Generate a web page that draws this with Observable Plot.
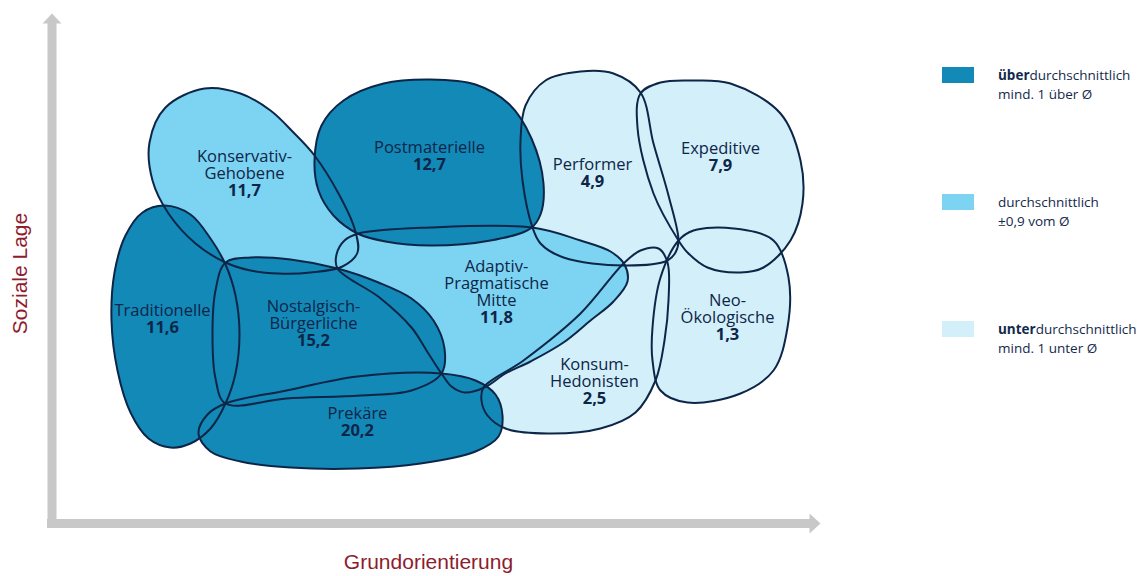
<!DOCTYPE html>
<html><head><meta charset="utf-8">
<script src="https://cdn.jsdelivr.net/npm/d3@7"></script>
<script src="https://cdn.jsdelivr.net/npm/@observablehq/plot@0.6"></script>
<style>
body{margin:0;background:#fff;}
#wrap{position:relative;width:1142px;height:576px;display:flex;}
#legend{position:relative;width:212px;height:576px;font-family:"Open Sans",sans-serif;font-size:13.5px;color:#13294b;}
.item{position:absolute;left:12px;display:flex;align-items:flex-start;}
.sw{width:32px;height:16px;margin-top:1px;margin-right:24px;flex:none;}
.txt{line-height:19px;white-space:nowrap;}
</style></head>
<body><div id="wrap"><div id="chart"></div><div id="legend"></div></div>
<script>
// ---- data ----
const milieuNames = ["Konservativ-Gehobene","Postmaterielle","Performer","Expeditive","Traditionelle","Nostalgisch-Bürgerliche","Adaptiv-Pragmatische Mitte","Neo-Ökologische","Konsum-Hedonisten","Prekäre"];
const milieuLabels = ["Konservativ-\nGehobene","Postmaterielle","Performer","Expeditive","Traditionelle","Nostalgisch-\nBürgerliche","Adaptiv-\nPragmatische\nMitte","Neo-\nÖkologische","Konsum-\nHedonisten","Prekäre"];
const milieuShares = [11.7, 12.7, 4.9, 7.9, 11.6, 15.2, 11.8, 1.3, 2.5, 20.2];
const milieuLevels = ["durchschnittlich","über","unter","unter","über","über","durchschnittlich","unter","unter","über"];
const labelX = [244, 429, 592, 720, 162, 313, 496, 727, 594, 357];
const labelY = [178, 152, 169, 153, 315, 328, 305, 322, 386, 418];

const outlineKonservativ = [[204,88],[240,93],[270,110],[293,132],[314,155],[338,193],[354,228],[357,252],[342,266],[310,272],[278,273],[250,270],[225,262],[195,243],[168,213],[152,180],[149,142],[165,107]];
const outlinePostmateriell = [[357,233],[333,215],[318,190],[314,160],[321,125],[343,100],[383,83],[430,79],[475,84],[509,104],[531,138],[543,183],[540,214],[530,228],[490,240],[430,245],[385,241]];
const outlinePerformer = [[532,227],[522,180],[520,140],[525,105],[545,80],[580,71],[613,73],[640,92],[653,143],[668,195],[678,240],[675,252],[667,260],[623,265],[563,257],[540,243]];
const outlineExpeditive = [[640,93],[660,82],[690,80],[730,83],[780,113],[800,160],[802,203],[790,240],[763,267],[740,272],[707,267],[687,252],[678,240],[653,193],[637,127]];
const outlineTraditionell = [[164,205],[190,214],[210,238],[225,264],[235,295],[239,333],[235,373],[225,403],[210,428],[190,443],[170,447],[148,438],[130,412],[117,370],[111,320],[114,272],[125,235],[142,212]];
const outlineNostalgisch = [[225,262],[250,257],[290,259],[337,268],[378,282],[411,298],[433,320],[444,348],[441,373],[411,390],[360,395],[286,398],[225,403],[215,378],[212,333],[215,290]];
const outlineAdaptiv = [[337,268],[336,254],[344,240],[358,233],[429,227],[532,227],[580,240],[610,251],[624,264],[627,281],[613,301],[590,320],[563,342],[530,361],[505,373],[484,387],[464,392],[451,386],[441,373],[426,350],[411,327],[379,297]];
const outlineNeoOeko = [[678,240],[693,230],[733,228],[773,240],[788,277],[787,327],[773,370],[740,393],[687,402],[660,390],[652,360],[652,327],[660,277]];
const outlineKonsum = [[483,387],[523,360],[580,313],[623,263],[640,250],[658,248],[667,262],[668,300],[664,340],[655,380],[635,412],[600,428],[547,433],[505,428],[487,415],[481,400]];
const outlinePrekaer = [[225,403],[286,390],[357,376],[441,373],[475,380],[495,394],[502,415],[498,436],[475,451],[420,463],[357,468],[290,467],[240,461],[210,451],[198,433],[207,414]];
const outlines = [outlineKonservativ, outlinePostmateriell, outlinePerformer, outlineExpeditive, outlineTraditionell, outlineNostalgisch, outlineAdaptiv, outlineNeoOeko, outlineKonsum, outlinePrekaer];

const levelOrder = ["unter","durchschnittlich","über"];
const levelColors = {"über":"#1389b8","durchschnittlich":"#7dd3f2","unter":"#d3eff9"};
const legendLines = [["<b>über</b>durchschnittlich","mind. 1 über Ø"],["durchschnittlich","±0,9 vom Ø"],["<b>unter</b>durchschnittlich","mind. 1 unter Ø"]];
const legendLevels = ["über","durchschnittlich","unter"];

const axisTitles = ["Soziale Lage","Grundorientierung"];
// axis geometry (origin and arrow tips, in chart units)
const axisOrigin = [51.5, 523];
const axisTipY = 13, axisTipX = 820;

// ---- build tables ----
const shapes = outlines.flatMap((pts, i) => pts.map(([x, y]) => ({milieu: milieuNames[i], level: milieuLevels[i], x, y})));
const labels = milieuNames.map((m, i) => ({milieu: m, text: milieuLabels[i], value: milieuShares[i].toLocaleString("de-DE",{minimumFractionDigits:1}), x: labelX[i], y: labelY[i]}));
const [ox, oy] = axisOrigin;
const heads = [
  {axis:"y", x: ox - 9.5, y: axisTipY + 10}, {axis:"y", x: ox, y: axisTipY}, {axis:"y", x: ox + 9.5, y: axisTipY + 10},
  {axis:"x", x: axisTipX - 11, y: oy - 10}, {axis:"x", x: axisTipX, y: oy}, {axis:"x", x: axisTipX - 11, y: oy + 10}
];
const navy = "#0d2648";
const grey = "#c8c8c8";

const plot = Plot.plot({
  width: 930, height: 576,
  margin: 0,
  x: {domain: [0, 930], axis: null},
  y: {domain: [0, 576], reverse: true, axis: null},
  marks: [
    Plot.ruleX([ox], {y1: axisTipY + 9, y2: oy + 4.5, stroke: grey, strokeWidth: 9}),
    Plot.ruleY([oy], {x1: ox - 4.5, x2: axisTipX - 10, stroke: grey, strokeWidth: 9}),
    Plot.line(heads, {x: "x", y: "y", z: "axis", curve: "linear-closed", fill: grey, stroke: "none"}),
    ...levelOrder.map(lv => Plot.line(shapes.filter(d => d.level === lv), {x: "x", y: "y", z: "milieu", curve: "catmull-rom-closed", fill: levelColors[lv], stroke: "none"})),
    Plot.line(shapes, {x: "x", y: "y", z: "milieu", curve: "catmull-rom-closed", fill: "none", stroke: navy, strokeWidth: 2}),
    Plot.text(labels, {x: "x", y: "y", text: "text", lineAnchor: "bottom", lineHeight: 1.03, fontSize: 16.5, fontFamily: "Open Sans", fill: navy}),
    Plot.text(labels, {x: "x", y: "y", text: "value", lineAnchor: "bottom", dy: 17, fontSize: 16.5, fontWeight: "bold", fontFamily: "Open Sans", fill: navy}),
    Plot.text([axisTitles[0]], {x: 20, y: 273, text: d => d, rotate: -90, fontSize: 21, fontFamily: "Liberation Sans", fill: "#8e1c2e"}),
    Plot.text([axisTitles[1]], {x: 428, y: 562, text: d => d, fontSize: 21, fontFamily: "Liberation Sans", fill: "#8e1c2e"})
  ]
});
document.getElementById("chart").appendChild(plot);

const legendTops = [66, 193, 320];
const legend = document.getElementById("legend");
legendLevels.forEach((lv, i) => {
  const it = document.createElement("div");
  it.className = "item";
  it.style.top = legendTops[i] + "px";
  it.innerHTML = `<div class="sw" style="background:${levelColors[lv]}"></div><div class="txt">${legendLines[i].join("<br>")}</div>`;
  legend.appendChild(it);
});
</script>
</body></html>
